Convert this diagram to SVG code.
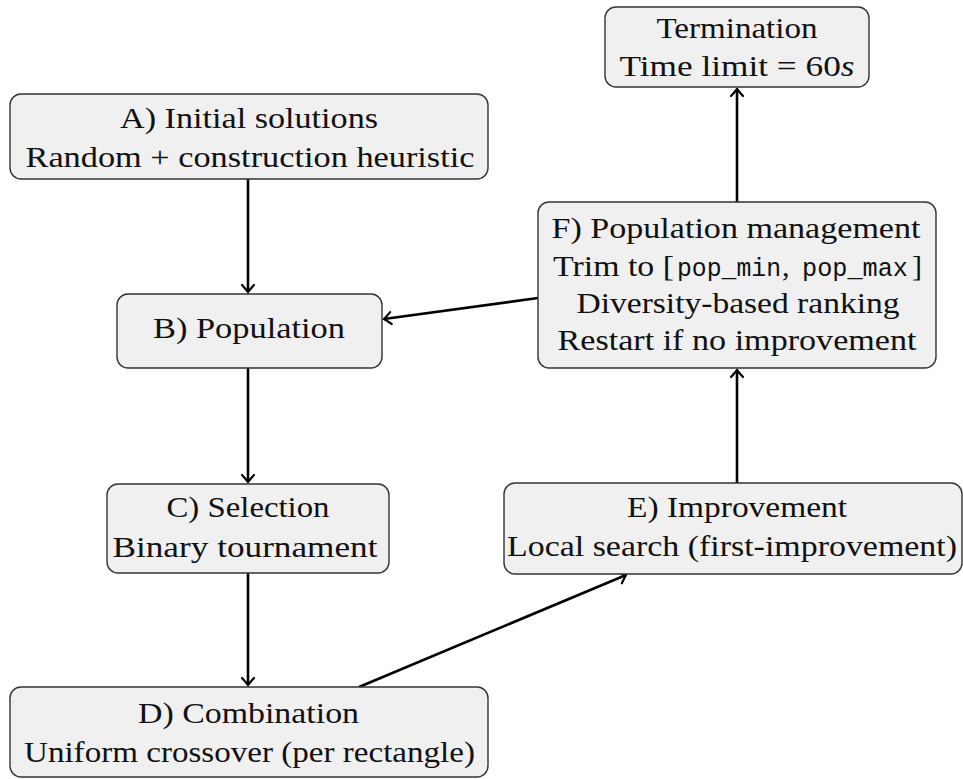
<svg xmlns="http://www.w3.org/2000/svg" width="963" height="779" viewBox="0 0 963 779">
<defs>
<marker id="ah" viewBox="-10 -8 14 16" markerWidth="14" markerHeight="16" refX="0" refY="0" orient="auto" markerUnits="userSpaceOnUse">
<path d="M-7,-6 Q-2,-1.5 0,0 Q-2,1.5 -7,6" fill="none" stroke="#000" stroke-width="2.2" stroke-linecap="round"/>
</marker>
<style>
.box{fill:#f0f0f0;stroke:#333;stroke-width:1.4}
.t{font-family:"Liberation Serif","DejaVu Serif",serif;font-size:30px;fill:#111;text-anchor:middle}
.s{text-anchor:start}
.m{font-family:"Liberation Mono","DejaVu Sans Mono",monospace;font-size:25px}
.c{fill:none;stroke:#000;stroke-width:2.6;marker-end:url(#ah)}
</style>
</defs>
<g id="connectors">
<line class="c" x1="248" y1="179" x2="248" y2="292"/>
<line class="c" x1="538" y1="298" x2="384" y2="319"/>
<line class="c" x1="248" y1="368" x2="248" y2="482"/>
<line class="c" x1="248" y1="573" x2="248" y2="685"/>
<line class="c" x1="359" y1="687" x2="626" y2="575"/>
<line class="c" x1="737" y1="483" x2="737" y2="370"/>
<line class="c" x1="737" y1="202" x2="737" y2="89"/>
</g>
<g id="termination">
<rect class="box" x="605" y="7" width="264" height="80" rx="11"/>
<text class="t" x="737" y="38" textLength="161" lengthAdjust="spacingAndGlyphs">Termination</text>
<text class="t" x="737" y="76" textLength="235" lengthAdjust="spacingAndGlyphs">Time limit = 60<tspan font-style="italic">s</tspan></text>
</g>
<g id="A">
<rect class="box" x="10" y="94" width="478" height="85" rx="11"/>
<text class="t" x="249" y="128" textLength="258" lengthAdjust="spacingAndGlyphs">A) Initial solutions</text>
<text class="t" x="250" y="167" textLength="449" lengthAdjust="spacingAndGlyphs">Random + construction heuristic</text>
</g>
<g id="F">
<rect class="box" x="538" y="202" width="398" height="166" rx="11"/>
<text class="t" x="736" y="238" textLength="369" lengthAdjust="spacingAndGlyphs">F) Population management</text>
<text class="t s" x="553" y="276" textLength="121" lengthAdjust="spacingAndGlyphs">Trim to [</text>
<text class="t s m" x="677" y="276" textLength="104" lengthAdjust="spacingAndGlyphs">pop_min</text>
<text class="t s" x="782" y="276">,</text>
<text class="t s m" x="802" y="276" textLength="106" lengthAdjust="spacingAndGlyphs">pop_max</text>
<text class="t s" x="912" y="276">]</text>
<text class="t" x="738" y="313" textLength="323" lengthAdjust="spacingAndGlyphs">Diversity-based ranking</text>
<text class="t" x="737" y="350" textLength="359" lengthAdjust="spacingAndGlyphs">Restart if no improvement</text>
</g>
<g id="B">
<rect class="box" x="117" y="294" width="265" height="74" rx="11"/>
<text class="t" x="249" y="338" textLength="192" lengthAdjust="spacingAndGlyphs">B) Population</text>
</g>
<g id="C">
<rect class="box" x="107" y="484" width="282" height="89" rx="11"/>
<text class="t" x="248" y="517" textLength="163" lengthAdjust="spacingAndGlyphs">C) Selection</text>
<text class="t" x="245" y="557" textLength="265" lengthAdjust="spacingAndGlyphs">Binary tournament</text>
</g>
<g id="E">
<rect class="box" x="504" y="483" width="458" height="91" rx="11"/>
<text class="t" x="737" y="517" textLength="220" lengthAdjust="spacingAndGlyphs">E) Improvement</text>
<text class="t" x="732" y="556" textLength="450" lengthAdjust="spacingAndGlyphs">Local search (first-improvement)</text>
</g>
<g id="D">
<rect class="box" x="10" y="687" width="478" height="90" rx="11"/>
<text class="t" x="248.5" y="723" textLength="221" lengthAdjust="spacingAndGlyphs">D) Combination</text>
<text class="t" x="249.5" y="762" textLength="451" lengthAdjust="spacingAndGlyphs">Uniform crossover (per rectangle)</text>
</g>
</svg>
